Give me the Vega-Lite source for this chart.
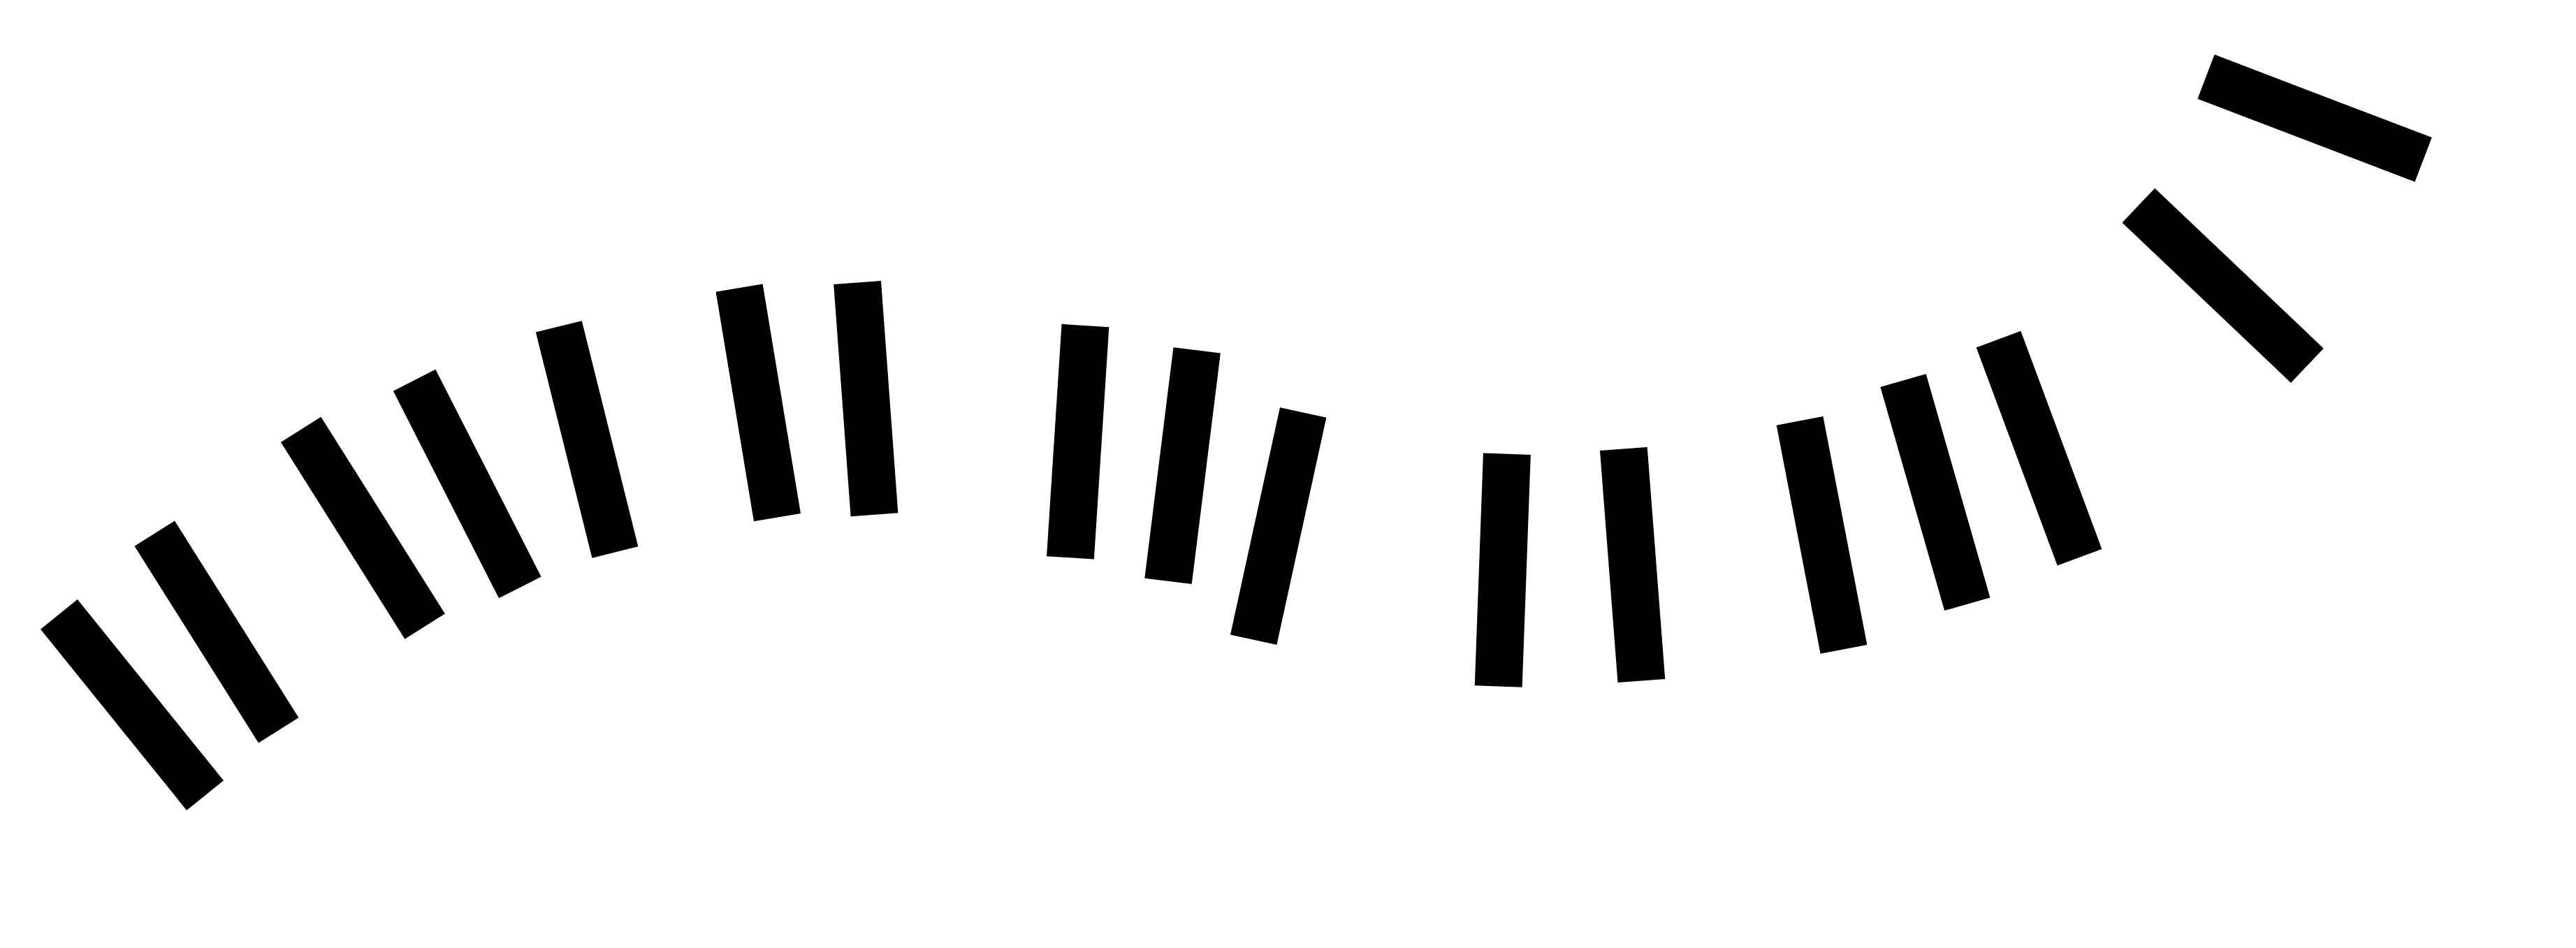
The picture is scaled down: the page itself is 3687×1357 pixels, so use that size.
{
  "$schema": "https://vega.github.io/schema/vega-lite/v6.json",
  "width": 3687,
  "height": 1357,
  "autosize": {"type": "fit", "contains": "padding"},
  "padding": 0,
  "data": {
    "values": [
      {"x": 189, "y": 1009, "angle": 321.1},
      {"x": 310, "y": 904.5, "angle": 327.8},
      {"x": 519.4, "y": 755.7, "angle": 327.8},
      {"x": 668.7, "y": 692.6, "angle": 333},
      {"x": 840.1, "y": 628.9, "angle": 346},
      {"x": 1085.3, "y": 576.4, "angle": 350.6},
      {"x": 1239.3, "y": 570.6, "angle": 355.8},
      {"x": 1542.7, "y": 632.2, "angle": 3.7},
      {"x": 1692.6, "y": 666.6, "angle": 7.1},
      {"x": 1829.7, "y": 753.1, "angle": 12.3},
      {"x": 2150.8, "y": 816.1, "angle": 2.1},
      {"x": 2336.6, "y": 808.5, "angle": 355.6},
      {"x": 2607.5, "y": 765.9, "angle": 349.1},
      {"x": 2769.9, "y": 704.7, "angle": 344},
      {"x": 2918.5, "y": 641.7, "angle": 339.6},
      {"x": 3181.6, "y": 408.7, "angle": 313.5},
      {"x": 3313, "y": 169.2, "angle": 290.9}
    ]
  },
  "mark": {
    "type": "point",
    "shape": "M -0.204 -1 L 0.204 -1 L 0.204 1 L -0.204 1 Z",
    "filled": true,
    "color": "black",
    "opacity": 1,
    "size": 110889
  },
  "encoding": {
    "x": {"field": "x", "type": "quantitative", "scale": {"domain": [0, 3687], "nice": false, "zero": false}, "axis": null},
    "y": {"field": "y", "type": "quantitative", "scale": {"domain": [0, 1357], "reverse": true, "nice": false, "zero": false}, "axis": null},
    "angle": {"field": "angle", "type": "quantitative", "scale": null}
  },
  "config": {"view": {"stroke": null}}
}
